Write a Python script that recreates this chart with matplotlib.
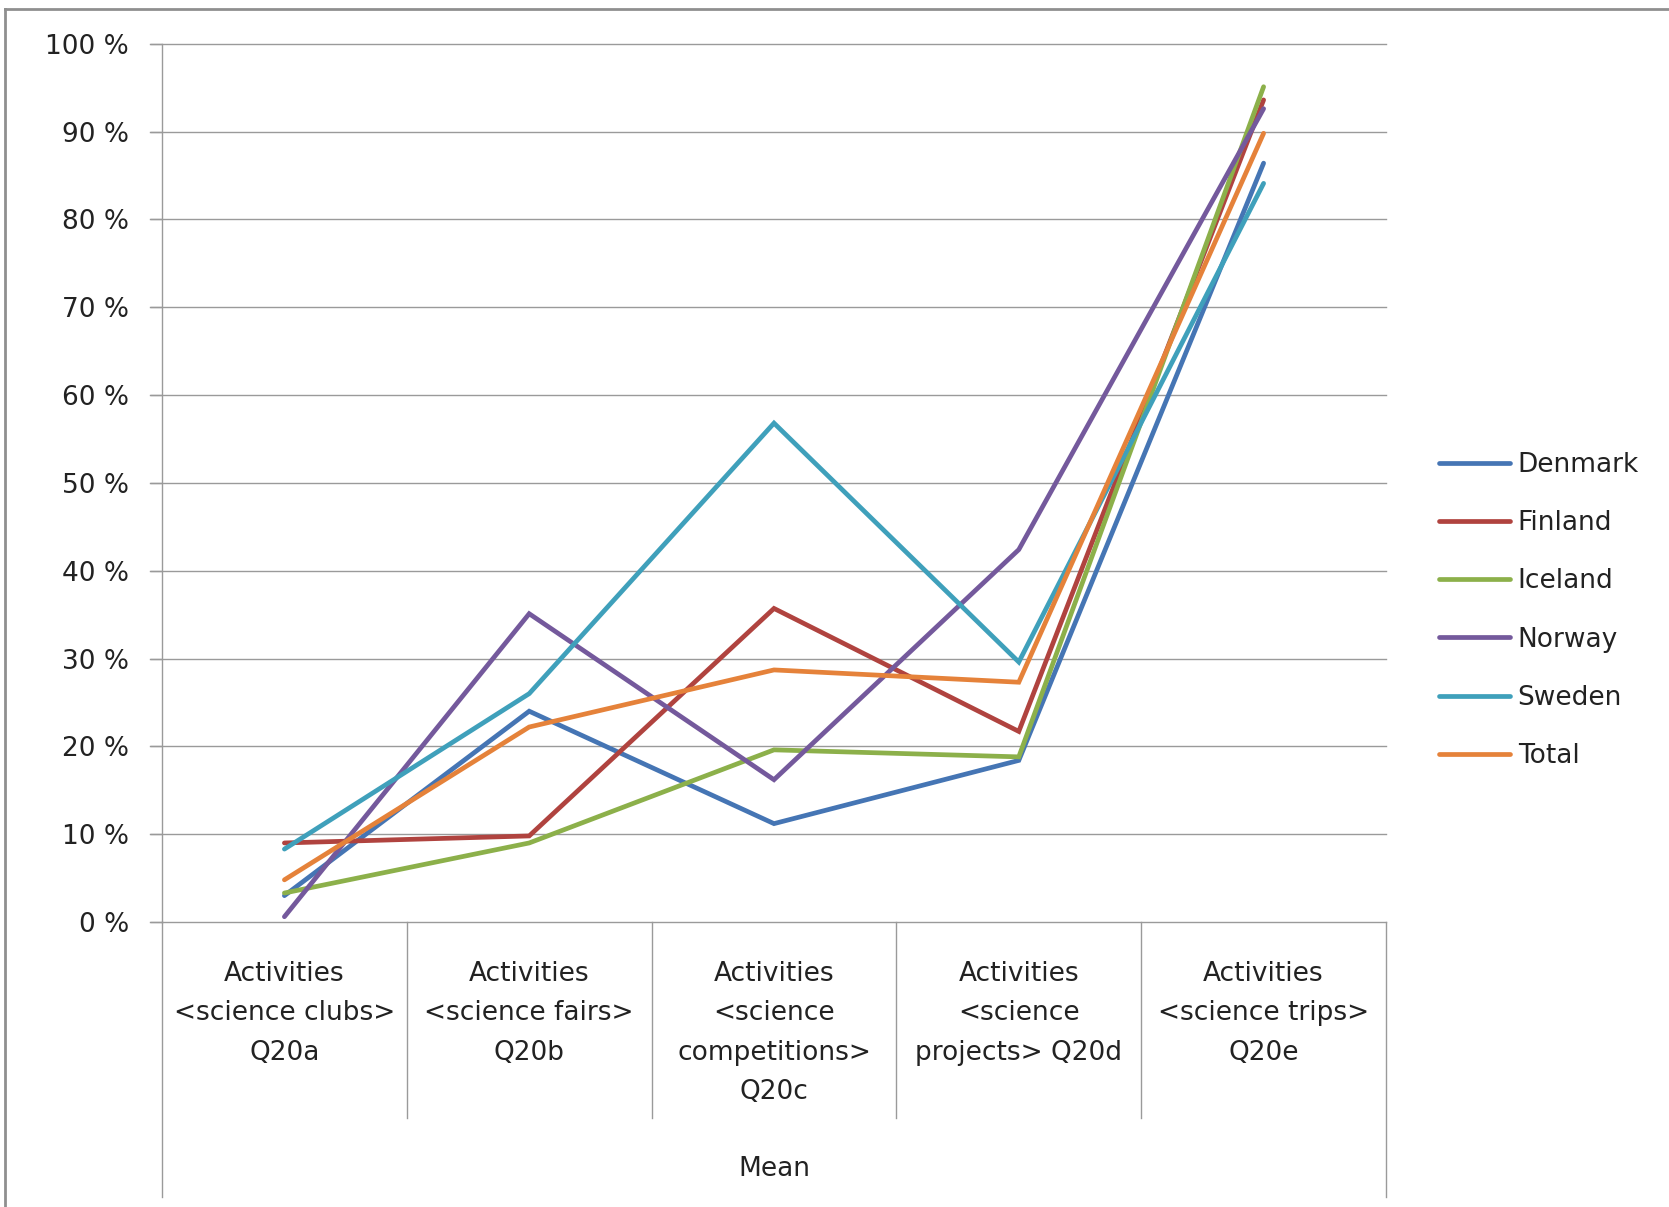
import matplotlib
matplotlib.use("Agg")
import matplotlib.pyplot as plt
from matplotlib.lines import Line2D
import matplotlib.transforms as mtransforms

categories = [
    "Activities\n<science clubs>\nQ20a",
    "Activities\n<science fairs>\nQ20b",
    "Activities\n<science\ncompetitions>\nQ20c",
    "Activities\n<science\nprojects> Q20d",
    "Activities\n<science trips>\nQ20e",
]
group_label = "Mean"

denmark = [3.0, 24.0, 11.2, 18.4, 86.4]
finland = [9.0, 9.8, 35.7, 21.7, 93.6]
iceland = [3.3, 9.0, 19.6, 18.8, 95.1]
norway = [0.6, 35.1, 16.2, 42.4, 92.6]
sweden = [8.3, 26.0, 56.8, 29.6, 84.1]
total = [4.8, 22.2, 28.7, 27.3, 89.8]

series_names = ["Denmark", "Finland", "Iceland", "Norway", "Sweden", "Total"]
series_values = [denmark, finland, iceland, norway, sweden, total]
colors = ["#4575b4", "#b0433f", "#8cb04a", "#74599c", "#3fa0bb", "#e5823a"]

yticks = list(range(0, 101, 10))
ytick_labels = [f"{v} %" for v in yticks]

W, H = 1669, 1207
fig = plt.figure(figsize=(W / 100, H / 100), dpi=100)
fig.patch.set_facecolor("white")

gray = "#9a9a9a"

# plot area in pixel terms
left, right, top, zero = 162, 1386, 43.7, 922
ax = fig.add_axes([left / W, (H - zero) / H, (right - left) / W, (zero - top) / H])

x = list(range(len(categories)))
for name, vals, c in zip(series_names, series_values, colors):
    ax.plot(x, vals, color=c, lw=3.4, label=name, solid_capstyle="round",
            solid_joinstyle="miter", clip_on=False, zorder=3)

ax.set_xlim(-0.5, len(categories) - 0.5)
ax.set_ylim(0, 100)
ax.set_yticks(yticks)
ax.set_yticklabels(ytick_labels, fontsize=19, color="#222222")
ax.set_xticks([])
ax.tick_params(axis="y", length=8.6, width=1.0, color=gray, pad=15)

for s in ["top", "right"]:
    ax.spines[s].set_visible(False)
for s in ["left", "bottom"]:
    ax.spines[s].set_color(gray)
    ax.spines[s].set_linewidth(1.0)

# horizontal gridlines start at the tick marks
trans_grid = mtransforms.blended_transform_factory(fig.transFigure, ax.transData)
for v in yticks[1:]:
    ax.add_line(Line2D([150 / W, right / W], [v, v], transform=trans_grid,
                       color=gray, lw=1.0, clip_on=False, zorder=1))
ax.add_line(Line2D([150 / W, left / W], [0, 0], transform=trans_grid,
                   color=gray, lw=1.0, clip_on=False, zorder=1))

# category table below the axis
ph = zero - top
sep_bottom = -(1118 - zero) / ph
outer_bottom = -(1197 - zero) / ph
trans_x = ax.get_xaxis_transform()
for b in [i + 0.5 for i in range(len(categories) - 1)]:
    ax.add_line(Line2D([b, b], [0, sep_bottom], transform=trans_x, color=gray,
                       lw=1.0, clip_on=False))
for b in [-0.5, len(categories) - 0.5]:
    ax.add_line(Line2D([b, b], [0, outer_bottom], transform=trans_x, color=gray,
                       lw=1.0, clip_on=False))

for i, lab in enumerate(categories):
    ax.text(i, -(961 - zero) / ph, lab, transform=trans_x, ha="center", va="top",
            fontsize=19, linespacing=1.67, color="#222222")

ax.text((len(categories) - 1) / 2, -(1169 - zero) / ph, group_label,
        transform=trans_x, ha="center", va="center", fontsize=19, color="#222222")

leg = fig.legend(loc="center left", bbox_to_anchor=(1439 / W, 1 - 610.5 / H),
                 frameon=False, fontsize=19, handlelength=2.7, handletextpad=0.28,
                 labelspacing=1.22, borderpad=0, borderaxespad=0)
for line in leg.get_lines():
    line.set_linewidth(3.4)
for t in leg.get_texts():
    t.set_color("#222222")

# outer chart border (left and top)
fig.add_artist(Line2D([5 / W, 5 / W], [0, 1 - 9 / H], transform=fig.transFigure,
                      color="#8f8f8f", lw=2.0))
fig.add_artist(Line2D([5 / W, 1], [1 - 9 / H, 1 - 9 / H], transform=fig.transFigure,
                      color="#8f8f8f", lw=2.0))

fig.savefig("out.png", dpi=100, facecolor="white")
